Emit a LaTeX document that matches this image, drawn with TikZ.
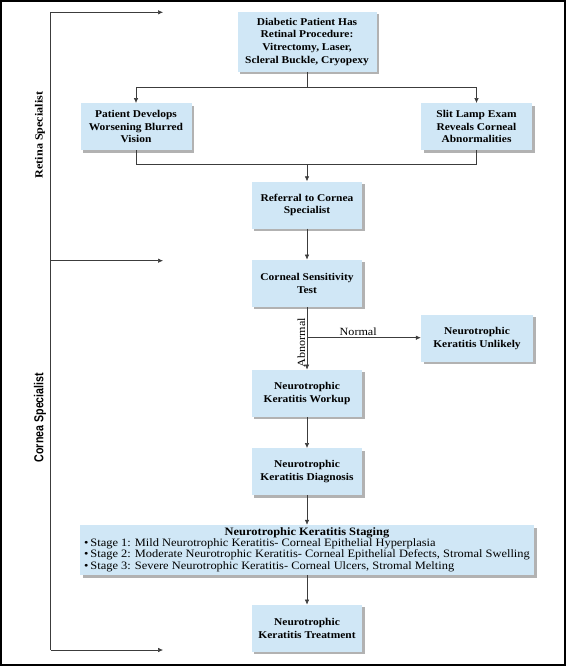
\documentclass[tikz,border=0pt]{standalone}
\usepackage{fontspec}
\setmainfont{Liberation Serif}[FakeStretch=1.1]
\newfontfamily\narrowsans{Liberation Sans}[FakeStretch=0.82]
\usetikzlibrary{arrows.meta,shadows}
\definecolor{boxblue}{RGB}{208,231,246}
\definecolor{linegray}{RGB}{60,60,60}
\begin{document}
\begin{tikzpicture}[x=1pt,y=-1pt,
  flowbox/.style={fill=boxblue, inner sep=0pt, align=center,
    font=\fontsize{10.4}{12.6}\selectfont\bfseries,
    drop shadow={shadow xshift=2.5pt, shadow yshift=-2.5pt, fill=black, opacity=0.3}},
  conn/.style={draw=linegray, line width=0.6pt},
  arr/.style={conn, -{Latex[length=5pt,width=4.5pt]}},
  lbl/.style={font=\fontsize{11}{12}\selectfont, inner sep=0pt}]
\useasboundingbox (0,0) rectangle (566,667);
\draw[line width=1.6pt] (1,1) rectangle (565,665);

% boxes
\node[flowbox, minimum width=139pt, minimum height=60pt] (top) at (307,41.7)
  {Diabetic Patient Has\\Retinal Procedure:\\Vitrectomy, Laser,\\Scleral Buckle, Cryopexy};
\node[flowbox, minimum width=111pt, minimum height=47pt] (left) at (136,126.7)
  {Patient Develops\\Worsening Blurred\\Vision};
\node[flowbox, minimum width=111pt, minimum height=47pt] (right) at (476.5,126.7)
  {Slit Lamp Exam\\Reveals Corneal\\Abnormalities};
\node[flowbox, minimum width=110.5pt, minimum height=47pt] (ref) at (307,205)
  {Referral to Cornea\\Specialist};
\node[flowbox, minimum width=110.5pt, minimum height=47pt] (sens) at (307,283.3)
  {Corneal Sensitivity\\Test};
\node[flowbox, minimum width=112pt, minimum height=47pt] (unl) at (477,338.3)
  {Neurotrophic\\Keratitis Unlikely};
\node[flowbox, minimum width=110.5pt, minimum height=47pt] (work) at (307,393.3)
  {Neurotrophic\\Keratitis Workup};
\node[flowbox, minimum width=110.5pt, minimum height=47pt] (diag) at (307,471.7)
  {Neurotrophic\\Keratitis Diagnosis};
\node[flowbox, minimum width=454pt, minimum height=50pt,
  font=\fontsize{11.3}{11.2}\selectfont] (stage) at (307,550)
  {\begin{tabular}{@{}l@{}}
   \multicolumn{1}{c}{\bfseries Neurotrophic Keratitis Staging}\\
   \textbullet\,Stage 1: Mild Neurotrophic Keratitis- Corneal Epithelial Hyperplasia\\
   \textbullet\,Stage 2: Moderate Neurotrophic Keratitis- Corneal Epithelial Defects, Stromal Swelling\\
   \textbullet\,Stage 3: Severe Neurotrophic Keratitis- Corneal Ulcers, Stromal Melting
   \end{tabular}};
\node[flowbox, minimum width=110.5pt, minimum height=47pt] (treat) at (307,628.3)
  {Neurotrophic\\Keratitis Treatment};

% connectors
\coordinate (b1) at (307,87.3);
\draw[conn] (top.south) -- (b1);
\draw[arr] (b1) -| (left.north);
\draw[arr] (b1) -| (right.north);
\coordinate (j1) at (307,164.3);
\draw[conn] (left.south) |- (j1) -| (right.south);
\draw[arr] (j1) -- (ref.north);
\draw[arr] (ref.south) -- (sens.north);
\coordinate (n1) at (307,337.7);
\draw[arr] (sens.south) -- node[lbl, rotate=90, above=1.5pt, pos=0.57] (abn) {Abnormal} (work.north);
\draw[arr] (n1) -- node[lbl, above=1.5pt, pos=0.45] (nor) {Normal} (unl.west |- n1);
\draw[arr] (work.south) -- (diag.north);
\draw[arr] (diag.south) -- (stage.north);
\draw[arr] (stage.south) -- (treat.north);

% left bracket
\coordinate (lt) at (50.5,12.3);
\coordinate (lm) at (50.5,260.7);
\coordinate (lb) at (50.5,650);
\coordinate (et) at (163,12.3);
\coordinate (em) at (163,260.7);
\coordinate (eb) at (163,650);
\draw[conn] (lt) -- (lb);
\draw[arr] (lt) -- (et);
\draw[arr] (lm) -- (em);
\draw[arr] (lb) -- (eb);
\node[rotate=90, font=\fontsize{11}{12}\selectfont\bfseries, inner sep=0pt] (ret) at (40,135) {Retina Specialist};
\node[rotate=90, font=\fontsize{13}{14}\narrowsans\bfseries, inner sep=0pt] (cor) at (40,417.5) {Cornea Specialist};
\end{tikzpicture}
\end{document}
